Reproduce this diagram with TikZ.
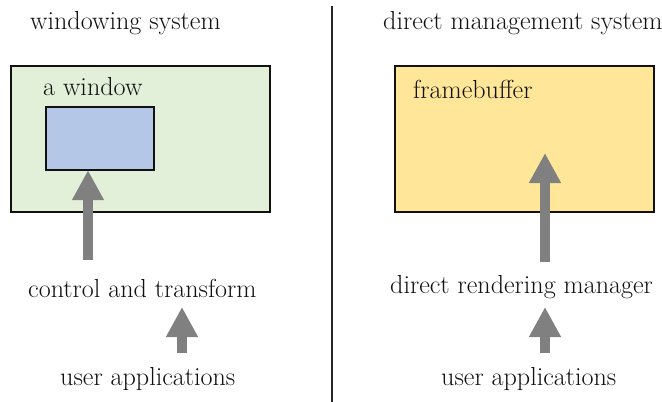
\documentclass[tikz,border=0pt]{standalone}
\usepackage{fontspec}
\usetikzlibrary{arrows.meta}
\definecolor{txt}{HTML}{111111}
\definecolor{greenfill}{HTML}{E2EFD9}
\definecolor{bluefill}{HTML}{B4C7E7}
\definecolor{yellowfill}{HTML}{FFE699}
\definecolor{arrowgray}{HTML}{808080}
\tikzset{
  lbl/.style={anchor=base west, inner sep=0pt, text=txt, font=\fontsize{26.1}{31}\selectfont},
  box/.style={draw=txt, line width=1.5pt},
  bigarrow/.style={draw=arrowgray, line width=10pt, -{Triangle[width=30pt,length=30pt]}},
  divider/.style={draw=black!85, line width=1.5pt}
}
\begin{document}
\begin{tikzpicture}[x=1pt,y=-1pt]
\useasboundingbox[fill=white] (0,0) rectangle (662,402);
% divider
\coordinate (dtop) at (332,6);
\coordinate (dbot) at (332,402);
\draw[divider] (dtop) -- (dbot);
% left side
\node[lbl] (ws) at (30,29) {windowing system};
\draw[box, fill=greenfill] (11,66) rectangle (270,212);
\node[lbl] (aw) at (43,95) {a window};
\draw[box, fill=bluefill] (46,107) rectangle (154,170);
\node[inner sep=0pt, minimum width=108pt, minimum height=63pt] (win) at (100,138.5) {};
\node[lbl] (ctl) at (28,297) {control and transform};
\node[lbl] (ua1) at (60,385) {user applications};
\coordinate (a1s) at (88,260);
\draw[bigarrow] (a1s) -- (a1s |- win.south);
\coordinate (a2s) at (182,353);
\coordinate (a2e) at (182,307);
\draw[bigarrow] (a2s) -- (a2e);
% right side
\node[lbl] (dms) at (383,29) {direct management system};
\draw[box, fill=yellowfill] (395,66) rectangle (654,212);
\node[lbl] (fb) at (413,98) {framebuffer};
\node[lbl] (drm) at (390,293) {direct rendering manager};
\node[lbl] (ua2) at (441,385) {user applications};
\coordinate (b1s) at (545,262);
\coordinate (b1e) at (545,153);
\draw[bigarrow] (b1s) -- (b1e);
\coordinate (b2s) at (545,353);
\coordinate (b2e) at (545,307);
\draw[bigarrow] (b2s) -- (b2e);
\end{tikzpicture}
\end{document}
